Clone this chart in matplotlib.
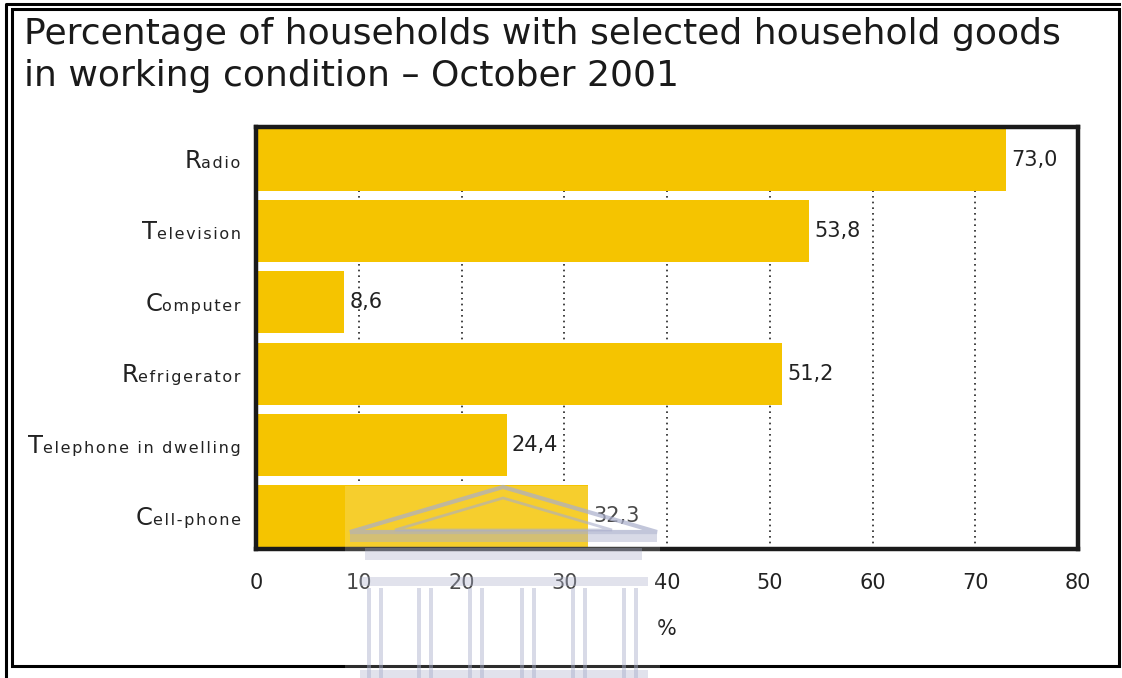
import matplotlib
matplotlib.use('Agg')
import matplotlib.pyplot as plt
from matplotlib.offsetbox import TextArea, HPacker, AnnotationBbox
from matplotlib.patches import Rectangle, Polygon
from matplotlib.lines import Line2D

TITLE = 'Percentage of households with selected household goods\nin working condition \u2013 October 2001'
CATEGORIES = ['Radio', 'Television', 'Computer', 'Refrigerator',
              'Telephone in dwelling', 'Cell-phone']
VALUES = [73.0, 53.8, 8.6, 51.2, 24.4, 32.3]
XTICKS = [0, 10, 20, 30, 40, 50, 60, 70, 80]

BAR_COLOR = '#F5C400'
TEXT_COLOR = '#222222'
W, H = 1122, 678


def fmt(v):
    return f'{v:.1f}'.replace('.', ',')


def tracked(s):
    # open up letter spacing with hair spaces
    return '\u200a'.join(s)


def px_rect(x0, y0, x1, y1, **kw):
    # rectangle given in image pixels (origin top-left)
    return Rectangle((x0 / W, 1 - y1 / H), (x1 - x0) / W, (y1 - y0) / H,
                     transform=fig.transFigure, **kw)


def px_line(xs, ys, **kw):
    return Line2D([x / W for x in xs], [1 - y / H for y in ys],
                  transform=fig.transFigure, **kw)


fig = plt.figure(figsize=(W / 100, H / 100), dpi=100)
fig.patch.set_facecolor('white')

ax = fig.add_axes([256 / W, (H - 549) / H, (1078 - 256) / W, (549 - 127) / H])
ypos = list(range(len(CATEGORIES)))
ax.barh(ypos, VALUES, height=0.87, color=BAR_COLOR, zorder=2)
ax.set_xlim(XTICKS[0], XTICKS[-1])
ax.set_ylim(5.46, -0.46)

for x in XTICKS[1:-1]:
    ax.axvline(x, color='#222222', lw=1.2, ls=(0, (1, 2.4)), zorder=1)

for y, v in zip(ypos, VALUES):
    ax.text(v + 0.5, y, fmt(v), ha='left', va='center', fontsize=15,
            color=TEXT_COLOR, zorder=3)

ax.set_xticks(XTICKS)
ax.set_xticklabels([str(t) for t in XTICKS], fontsize=15, color=TEXT_COLOR)
ax.tick_params(axis='x', length=0, pad=17)
ax.set_yticks([])
ax.set_xlabel('%', fontsize=15, color=TEXT_COLOR, labelpad=19)
for s in ax.spines.values():
    s.set_linewidth(3.2)
    s.set_color('#1a1a1a')

# category labels: large initial capital followed by small lowercase
for y, name in zip(ypos, CATEGORIES):
    cap = TextArea(name[0], textprops=dict(fontsize=17.5, color=TEXT_COLOR))
    rest = TextArea(tracked(name[1:]),
                    textprops=dict(fontsize=11.5, color=TEXT_COLOR))
    box = HPacker(children=[cap, rest], align='baseline', pad=0, sep=0)
    ab = AnnotationBbox(box, (0, y), xycoords=('axes fraction', 'data'),
                        xybox=(-11, -1), boxcoords='offset points',
                        box_alignment=(1, 0.5), frameon=False, pad=0,
                        annotation_clip=False)
    ax.add_artist(ab)

fig.text(24 / W, 1 - 17 / H, TITLE, ha='left', va='top', fontsize=26,
         color='#1a1a1a', linespacing=1.3)

# page frame
fig.add_artist(px_rect(12, 9, 1119, 666, fill=False, lw=2.2, edgecolor='black'))
fig.add_artist(px_line([6, 6, 1119], [678, 4, 4], lw=2.2, color='black'))

# faint crest watermark over the lower part
wm = '#a9aecb'
fig.add_artist(px_rect(345, 486, 660, 678, facecolor='white', alpha=0.18, lw=0))
fig.add_artist(Polygon([(350 / W, 1 - 532 / H), (503 / W, 1 - 487 / H),
                        (657 / W, 1 - 532 / H)], closed=True, fill=False,
                       edgecolor=wm, lw=3, alpha=0.7, transform=fig.transFigure))
fig.add_artist(Polygon([(395 / W, 1 - 530 / H), (503 / W, 1 - 498 / H),
                        (612 / W, 1 - 530 / H)], closed=True, fill=False,
                       edgecolor=wm, lw=2, alpha=0.6, transform=fig.transFigure))
fig.add_artist(px_rect(350, 534, 657, 542, facecolor=wm, alpha=0.45, lw=0))
fig.add_artist(px_rect(365, 548, 642, 560, facecolor=wm, alpha=0.35, lw=0))
fig.add_artist(px_rect(360, 577, 648, 586, facecolor=wm, alpha=0.35, lw=0))
for cx in [375, 425, 476, 528, 579, 630]:
    fig.add_artist(px_rect(cx - 8, 588, cx - 4, 678, facecolor=wm, alpha=0.45, lw=0))
    fig.add_artist(px_rect(cx + 4, 588, cx + 8, 678, facecolor=wm, alpha=0.45, lw=0))
fig.add_artist(px_rect(360, 670, 648, 678, facecolor=wm, alpha=0.35, lw=0))

fig.savefig('out.png', dpi=100, facecolor='white')
